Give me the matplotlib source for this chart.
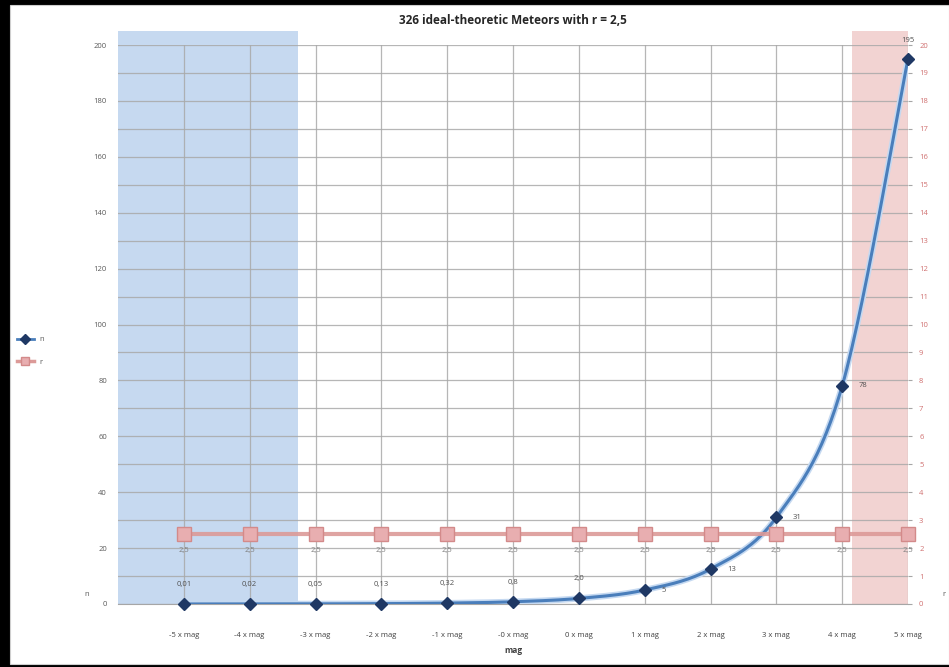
import numpy as np
import matplotlib.pyplot as plt
from matplotlib.patches import Rectangle
from matplotlib.lines import Line2D

# data
mags = ["-5 x mag", "-4 x mag", "-3 x mag", "-2 x mag", "-1 x mag", "-0 x mag",
        "0 x mag", "1 x mag", "2 x mag", "3 x mag", "4 x mag", "5 x mag"]
n_values = [0.01, 0.02, 0.05, 0.13, 0.32, 0.8, 2.0, 5, 12.5, 31, 78, 195]
n_labels = ["0,01", "0,02", "0,05", "0,13", "0,32", "0,8", "2,0", "5", "13", "31", "78", "195"]
r_values = [2.5] * 12
r_labels = ["2,5"] * 12

plt.rcParams['font.family'] = ['Open Sans', 'DejaVu Sans']

W, H = 949, 667
fig = plt.figure(figsize=(W / 100, H / 100), dpi=100, facecolor="black")
fig.patches.append(Rectangle((10 / W, 3 / H), 939 / W, 659 / H, transform=fig.transFigure,
                             facecolor="white", edgecolor="#cfcfcf", lw=0.8, zorder=-10))

x0, x1, y0, y1 = 118, 908, 604, 45
ax = fig.add_axes([x0 / W, 1 - y0 / H, (x1 - x0) / W, (y0 - y1) / H])
ax.set_facecolor("none")
ax2 = ax.twinx()

x = np.arange(len(mags))
ax.set_xlim(-1, 11)
ax.set_ylim(0, 200)
ax2.set_ylim(0, 20)

# grid
ax.set_yticks(np.arange(0, 201, 20))
ax.set_yticks(np.arange(0, 201, 10), minor=True)
ax.grid(True, which="both", axis="y", color="#a9a9a9", lw=0.9, alpha=0.85)
ax.set_xticks(x)
ax.grid(True, axis="x", color="#a9a9a9", lw=0.9, alpha=0.85)
ax.set_axisbelow(True)

# shaded zones (under the grid)
ax.axvspan(-1, 1.735, ymin=0, ymax=205 / 200, color="#c6d9f0", lw=0, zorder=0.3, clip_on=False)
ax.axvspan(10.155, 11, ymin=0, ymax=205 / 200, color="#f2d3d2", lw=0, zorder=0.3, clip_on=False)


# smooth curve like Excel (Catmull-Rom in pixel space)
def smooth(xs, ys, sx, sy, steps=30):
    px = np.asarray(xs, float) * sx
    py = np.asarray(ys, float) * sy
    P = np.column_stack([px, py])
    P = np.vstack([P[0], P, P[-1]])
    out = []
    t = np.linspace(0, 1, steps)[:, None]
    for i in range(1, len(P) - 2):
        p0, p1, p2, p3 = P[i - 1], P[i], P[i + 1], P[i + 2]
        seg = 0.5 * ((2 * p1) + (-p0 + p2) * t + (2 * p0 - 5 * p1 + 4 * p2 - p3) * t ** 2
                     + (-p0 + 3 * p1 - 3 * p2 + p3) * t ** 3)
        out.append(seg)
    out = np.vstack(out)
    return out[:, 0] / sx, out[:, 1] / sy


sx, sy = 65.8, 559 / 200
cx, cy = smooth(x, n_values, sx, sy)
ax.plot(cx, cy, color="#c5d9f1", lw=4.5, zorder=4, solid_capstyle="round")
ax.plot(cx, cy, color="#4a7ebb", lw=2.2, zorder=5, solid_capstyle="round")
ax.plot(x, n_values, ls="none", marker="D", ms=6.5, color="#1f3864", mec="#1f3864", zorder=6, clip_on=False)

ax2.plot(x, r_values, color="#dc9a98", lw=3, zorder=3, alpha=0.9)
ax2.plot(x, r_values, ls="none", marker="s", ms=9.5, color="#e8aeb0", mec="#d38a8a", mew=1, zorder=4,
         clip_on=False)

# data labels
lab_kw = dict(fontsize=5.5, color="#505050", zorder=7)
for i, (v, t) in enumerate(zip(n_values, n_labels)):
    if i < 7 or i == 11:
        ax.annotate(t, (i, v), xytext=(0, 14 if i < 11 else 13), textcoords="offset points",
                    ha="center", va="center", **lab_kw)
    else:
        ax.annotate(t, (i, v), xytext=(12, 0), textcoords="offset points",
                    ha="left", va="center", **lab_kw)
for i, (v, t) in enumerate(zip(r_values, r_labels)):
    ax2.annotate(t, (i, v), xytext=(0, -12), textcoords="offset points",
                 ha="center", va="center", fontsize=5.5, color="#7f7f7f", zorder=7)

# axes styling
ax.set_xticklabels(mags, fontsize=5.5, color="#404040")
ax.tick_params(axis="x", length=0, pad=20)
ax.tick_params(axis="y", which="both", length=0, labelsize=5.5, labelcolor="#595959", pad=8)
ax2.set_yticks(np.arange(0, 21, 1))
ax2.tick_params(axis="y", length=3, color="#a6a6a6", labelsize=5.5, labelcolor="#d07070", pad=5)
for a in (ax, ax2):
    for s in a.spines.values():
        s.set_visible(False)
ax.spines["bottom"].set_visible(True)
ax.spines["bottom"].set_color("#a6a6a6")

ax.set_title("326 ideal-theoretic Meteors with r = 2,5", fontsize=8.5, fontweight="bold",
             color="#262626", pad=15)
ax.set_xlabel("mag", fontsize=6, fontweight="bold", color="#404040", labelpad=5)
fig.text(87 / W, 1 - 594 / H, "n", fontsize=5.5, color="#595959", ha="center", va="center")
fig.text(944 / W, 1 - 595 / H, "r", fontsize=5.5, color="#595959", ha="center", va="center")

# legend
handles = [Line2D([], [], color="#4a7ebb", lw=2, marker="D", ms=5, mfc="#1f3864", mec="#1f3864"),
           Line2D([], [], color="#dc9a98", lw=2.5, marker="s", ms=6, mfc="#e8aeb0", mec="#d38a8a")]
fig.legend(handles, ["n", "r"], loc="center left", bbox_to_anchor=(10 / W, 1 - 351 / H),
           frameon=False, fontsize=5.5, handlelength=2.2, labelspacing=2.0, labelcolor="#595959")

fig.savefig("out.png", dpi=100, facecolor=fig.get_facecolor())
